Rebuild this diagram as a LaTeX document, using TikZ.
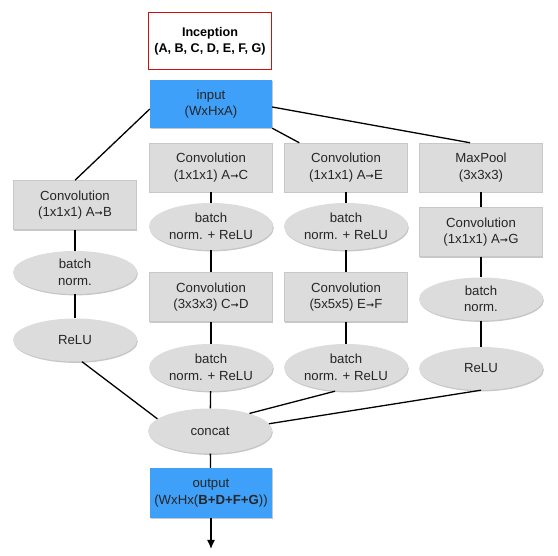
\documentclass[tikz,border=0pt]{standalone}
\usepackage{fontspec}
\setmainfont{Liberation Sans}
\newfontfamily\arrowfont{DejaVu Sans}
\usepackage{xcolor}
\usepackage{tikz}
\usetikzlibrary{arrows}
\usetikzlibrary{arrows.meta}
\usetikzlibrary{shapes}
\usetikzlibrary{shapes.geometric}
\usetikzlibrary{shadows}
\definecolor{boxgray}{HTML}{DCDCDC}
\definecolor{edgegray}{HTML}{C8C8C8}
\definecolor{inblue}{HTML}{3EA0F8}
\definecolor{headred}{HTML}{CC1111}
\newcommand{\mapsarrow}{{\arrowfont\fontsize{10}{10}\selectfont ➞}}
\tikzset{>=latex}
\tikzstyle{soft} = [drop shadow={shadow xshift=0.8pt, shadow yshift=-1.4pt, fill=black, opacity=0.22}]
\tikzstyle{layer} = [rectangle, soft, draw=edgegray, line width=0.5pt, fill=boxgray, minimum width=123pt, minimum height=49pt, inner sep=0pt, align=center]
\tikzstyle{op} = [ellipse, soft, draw=none, fill=boxgray, minimum width=124pt, minimum height=43pt, inner sep=0pt, align=center]
\tikzstyle{tensor} = [rectangle, soft, draw=none, fill=inblue, minimum width=122pt, minimum height=48pt, inner sep=0pt, align=center]

\begin{document}
\begin{tikzpicture}[x=1pt, y=-1pt, font=\fontsize{13.2}{16.5}\selectfont, text=black!85]
\useasboundingbox (0,0) rectangle (558,556);
\node [rectangle, draw=headred, line width=1.5pt, minimum width=123pt, minimum height=57pt, align=center, font=\fontsize{12.6}{16}\selectfont\bfseries, text=black] (title) at (210, 41) {Inception\\(A, B, C, D, E, F, G)};
\node [tensor] (input) at (211, 104) {input\\(WxHxA)};
\node [layer] (convB) at (75, 205) {Convolution\\(1x1x1) A\mapsarrow B};
\node [op] (bnB) at (75, 272.5) {batch\\norm.};
\node [op] (reluB) at (75, 340) {ReLU};
\node [layer] (convC) at (211, 167.5) {Convolution\\(1x1x1) A\mapsarrow C};
\node [op, minimum height=47pt] (bnrC) at (211, 226.5) {batch\\norm. + ReLU};
\node [layer] (convD) at (211, 297) {Convolution\\(3x3x3) C\mapsarrow D};
\node [op, minimum height=47pt] (bnrD) at (211, 367.5) {batch\\norm. + ReLU};
\node [layer] (convE) at (346, 167.5) {Convolution\\(1x1x1) A\mapsarrow E};
\node [op, minimum height=47pt] (bnrE) at (346, 226.5) {batch\\norm. + ReLU};
\node [layer] (convF) at (346, 297) {Convolution\\(5x5x5) E\mapsarrow F};
\node [op, minimum height=47pt] (bnrF) at (346, 367.5) {batch\\norm. + ReLU};
\node [layer] (pool) at (481, 167.5) {MaxPool\\(3x3x3)};
\node [layer] (convG) at (481, 232) {Convolution\\(1x1x1) A\mapsarrow G};
\node [op] (bnG) at (481, 299) {batch\\norm.};
\node [op] (reluG) at (481, 368.5) {ReLU};
\node [op, minimum height=45pt] (concat) at (210, 431) {concat};
\node [tensor, minimum height=50pt] (output) at (211, 493) {output\\(WxHx(\textbf{B+D+F+G}))};
\coordinate (out) at (211, 549);
\draw [line width=1.3pt] ([yshift=-5pt]input.west) to (convB.north);
\draw [line width=1.3pt] (input.south east) to ([xshift=15pt]convE.north west);
\draw [line width=1.3pt] ([yshift=-3pt]input.east) to ([xshift=-11pt]pool.north);
\draw [line width=1.3pt] (convB) to (bnB);
\draw [line width=1.3pt] (bnB) to (reluB);
\draw [line width=1.3pt] (convC) to (bnrC);
\draw [line width=1.3pt] (bnrC) to (convD);
\draw [line width=1.3pt] (convD) to (bnrD);
\draw [line width=1.3pt] (convE) to (bnrE);
\draw [line width=1.3pt] (bnrE) to (convF);
\draw [line width=1.3pt] (convF) to (bnrF);
\draw [line width=1.3pt] (pool) to (convG);
\draw [line width=1.3pt] (convG) to (bnG);
\draw [line width=1.3pt] (bnG) to (reluG);
\draw [line width=1.3pt] ([xshift=7pt]reluB.south) to (concat.167);
\draw [line width=1.3pt] (bnrD) to (concat);
\draw [line width=1.3pt] ([xshift=-11pt]bnrF.south) to (concat.24);
\draw [line width=1.3pt] (reluG.south) to (concat.7);
\draw [line width=1.3pt] (concat) to (output);
\draw [-{Latex[length=9pt, width=8pt]}, line width=1.3pt] (output) to (out);
\end{tikzpicture}
\end{document}
